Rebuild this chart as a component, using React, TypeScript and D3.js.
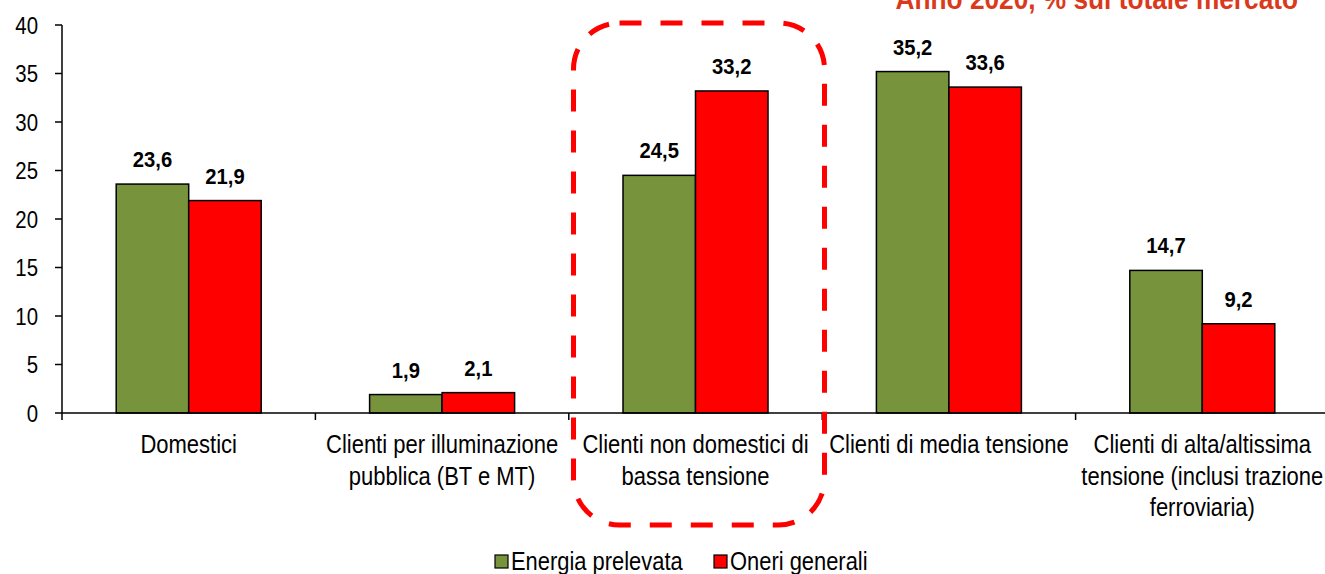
import React from "react";
import * as d3 from "d3";

const categories: string[][] = [
  ["Domestici"],
  ["Clienti per illuminazione", "pubblica (BT e MT)"],
  ["Clienti non domestici di", "bassa tensione"],
  ["Clienti di media tensione"],
  ["Clienti di alta/altissima", "tensione (inclusi trazione", "ferroviaria)"],
];
const energia = [23.6, 1.9, 24.5, 35.2, 14.7];
const oneri = [21.9, 2.1, 33.2, 33.6, 9.2];
const seriesNames = ["Energia prelevata", "Oneri generali"];
const seriesColors = ["#77933C", "#FF0000"];
const yTicks = [0, 5, 10, 15, 20, 25, 30, 35, 40];
const title = "Anno 2020, % sui totale mercato";

const W = 1325;
const H = 574;
const FONT = "'Liberation Sans', Arial, sans-serif";

type NTProps = {
  x: number;
  y: number;
  size: number;
  sx: number;
  anchor?: "start" | "middle" | "end";
  bold?: boolean;
  fill?: string;
  dy?: string;
  children: React.ReactNode;
};

function NText({ x, y, size, sx, anchor = "start", bold, fill = "#000", dy, children }: NTProps) {
  return (
    <text
      transform={`translate(${x},${y}) scale(${sx},1)`}
      textAnchor={anchor}
      fontSize={size}
      fontWeight={bold ? "bold" : "normal"}
      fill={fill}
      dy={dy}
    >
      {children}
    </text>
  );
}

export default function App() {
  const x0 = 62;
  const x1 = 1329;
  const y = d3.scaleLinear().domain([0, 40]).range([413, 25]);
  const xBand = d3
    .scaleBand<number>()
    .domain(categories.map((_, i) => i))
    .range([x0, x1]);
  const barW = 72.5;
  const fmt = (v: number) => v.toFixed(1).replace(".", ",");
  const series = [energia, oneri];

  return (
    <svg
      width={W}
      height={H}
      style={{ position: "absolute", left: 0, top: 0, display: "block" }}
      fontFamily={FONT}
    >
      <rect width={W} height={H} fill="#fff" />
      {/* title */}
      <NText x={1298} y={9} size={30} sx={0.875} anchor="end" bold fill="#DA3A1B">
        {title}
      </NText>
      {/* y axis */}
      <line x1={x0} x2={x0} y1={y(40)} y2={y(0)} stroke="#000" strokeWidth={1.5} />
      {yTicks.map((t) => (
        <g key={t}>
          <line x1={x0 - 7} x2={x0} y1={y(t)} y2={y(t)} stroke="#000" strokeWidth={1.5} />
          <NText x={x0 - 24} y={y(t)} size={24} sx={0.85} anchor="end" dy="0.36em">
            {t}
          </NText>
        </g>
      ))}
      {/* bars */}
      {categories.map((_, i) => {
        const cx = (xBand(i) as number) + xBand.bandwidth() / 2;
        return (
          <g key={i}>
            {series.map((s, j) => {
              const bx = cx - barW + j * barW;
              return (
                <g key={j}>
                  <rect
                    x={bx}
                    y={y(s[i])}
                    width={barW}
                    height={y(0) - y(s[i])}
                    fill={seriesColors[j]}
                    stroke="#000"
                    strokeWidth={1.5}
                  />
                  <NText x={bx + barW / 2} y={y(s[i]) - 17} size={22} sx={0.92} anchor="middle" bold>
                    {fmt(s[i])}
                  </NText>
                </g>
              );
            })}
          </g>
        );
      })}
      {/* x axis */}
      <line x1={x0} x2={W} y1={y(0)} y2={y(0)} stroke="#000" strokeWidth={1.5} />
      {categories.map((_, i) => (
        <line
          key={i}
          x1={xBand(i) as number}
          x2={xBand(i) as number}
          y1={y(0)}
          y2={y(0) + 7}
          stroke="#000"
          strokeWidth={1.5}
        />
      ))}
      {categories.map((lines, i) => {
        const cx = (xBand(i) as number) + xBand.bandwidth() / 2;
        return (
          <g key={i}>
            {lines.map((l, k) => (
              <NText key={k} x={cx} y={453 + k * 31.5} size={25} sx={0.88} anchor="middle">
                {l}
              </NText>
            ))}
          </g>
        );
      })}
      {/* highlight box */}
      <rect
        x={573.5}
        y={23}
        width={251}
        height={502}
        rx={46}
        ry={46}
        fill="none"
        stroke="#FF0000"
        strokeWidth={5}
        strokeDasharray="22 19"
      />
      {/* legend */}
      {seriesNames.map((n, j) => {
        const lx = j === 0 ? 495 : 714;
        return (
          <g key={n}>
            <rect x={lx} y={555} width={13} height={13} fill={seriesColors[j]} stroke="#000" strokeWidth={1.2} />
            <NText x={lx + 16} y={570} size={25} sx={0.876}>
              {n}
            </NText>
          </g>
        );
      })}
    </svg>
  );
}
